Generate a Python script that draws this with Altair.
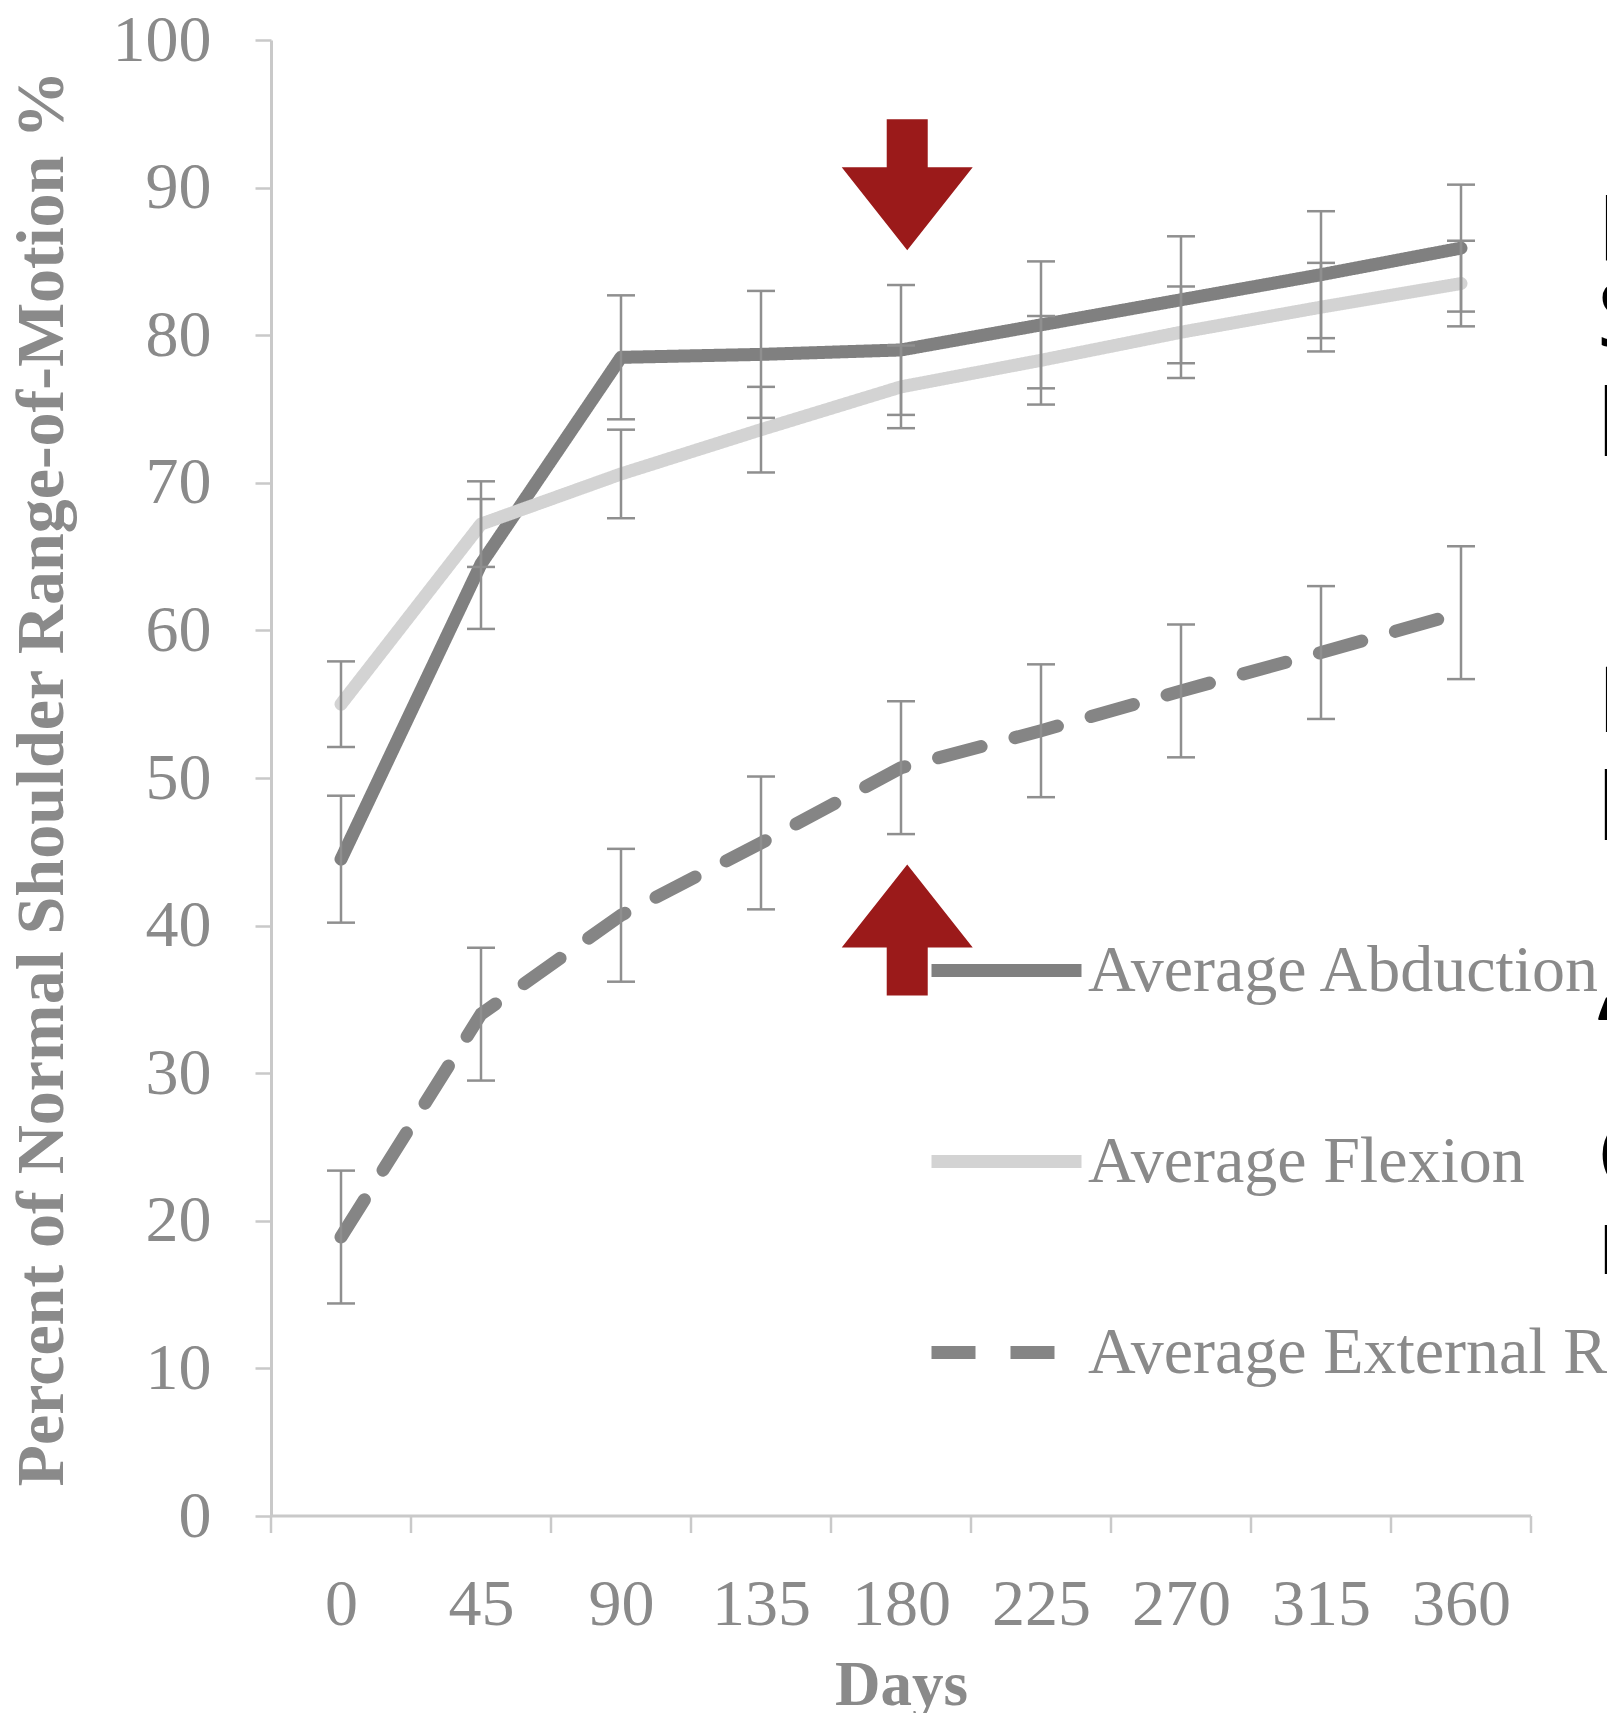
import altair as alt
import pandas as pd

# ---------------- data ----------------
days = [0, 45, 90, 135, 180, 225, 270, 315, 360]
series_names = ["Average Abduction", "Average Flexion", "Average External Rotation"]

abduction = [44.5, 64.5, 78.5, 78.7, 79.0, 80.7, 82.4, 84.1, 85.9]
abduction_err = [4.3, 4.4, 4.2, 4.3, 4.4, 4.3, 4.3, 4.3, 4.3]
flexion = [55.0, 67.2, 70.6, 73.6, 76.5, 78.3, 80.2, 81.9, 83.5]
flexion_err = [2.9, 2.9, 3.0, 2.9, 2.8, 3.0, 3.1, 3.0, 2.9]
external = [18.9, 34.0, 40.7, 45.6, 50.7, 53.2, 55.9, 58.5, 61.2]
external_err = [4.5, 4.5, 4.5, 4.5, 4.5, 4.5, 4.5, 4.5, 4.5]

y_ticks = [0, 10, 20, 30, 40, 50, 60, 70, 80, 90, 100]
x_bounds = [-22.5, 22.5, 67.5, 112.5, 157.5, 202.5, 247.5, 292.5, 337.5, 382.5]

# annotation arrows (day, value, direction)
arrow_days = [182, 182]
arrow_values = [90.2, 39.7]
arrow_dirs = ["down", "up"]

# cropped slide text at the right edge
side_letters = ["F", "S", "p", "H", "p", "\u201c", "C", "n"]
side_values = [85.0, 79.2, 73.3, 53.1, 47.3, 30.7, 22.3, 16.4]

# ---------------- build tables ----------------
rows = []
for name, vals, errs in zip(series_names, [abduction, flexion, external],
                            [abduction_err, flexion_err, external_err]):
    for d, v, e in zip(days, vals, errs):
        rows.append({"series": name, "day": d, "value": v, "lo": v - e, "hi": v + e})
df = pd.DataFrame(rows)

bounds_df = pd.DataFrame({"day": x_bounds})
axis_df = pd.DataFrame({"day": [x_bounds[0]], "day2": [x_bounds[-1]], "value": [0]})
arrows_df = pd.DataFrame({"day": arrow_days, "value": arrow_values, "dir": arrow_dirs})
letters_df = pd.DataFrame({"t": side_letters, "value": side_values})

GREY_TXT = "#8a8a8a"
AXIS_GREY = "#c9c9c9"
ERR_GREY = "#8f8f8f"
SERIF = "Liberation Serif"

W, H = 1336, 1476
px_per_day = 1260 / 405
x_scale = alt.Scale(domain=[-22.5, -22.5 + W / px_per_day], nice=False, zero=False)
y_scale = alt.Scale(domain=[0, 100], nice=False, zero=False)

legend = alt.Legend(
    title=None, orient="none", legendX=654, legendY=849,
    symbolType="stroke", symbolSize=22500, symbolStrokeWidth=13,
    labelFont=SERIF, labelFontSize=66, labelColor=GREY_TXT,
    rowPadding=76, labelOffset=0, padding=0, labelLimit=0,
)
color_enc = alt.Color("series:N", scale=alt.Scale(domain=series_names,
                      range=["#808080", "#d3d3d3", "#858585"]), legend=legend)
dash_enc = alt.StrokeDash("series:N", scale=alt.Scale(domain=series_names,
                          range=[[1, 0], [1, 0], [44, 35]]), legend=legend)

x_axis = alt.Axis(values=days, ticks=False, tickSize=0, domain=False, grid=False,
                  labelFont=SERIF, labelFontSize=66, labelColor=GREY_TXT,
                  labelPadding=56, labelFlush=False,
                  title="Days", titleFont=SERIF, titleFontSize=63, titleFontWeight="bold",
                  titleColor=GREY_TXT, titleX=630, titleY=138, titleBaseline="top",
                  titleAlign="center")
y_axis = alt.Axis(values=y_ticks, tickSize=16, tickColor=AXIS_GREY, tickWidth=2.5,
                  domainColor=AXIS_GREY, domainWidth=3, grid=False,
                  labelFont=SERIF, labelFontSize=66, labelColor=GREY_TXT, labelPadding=44,
                  title="Percent of Normal Shoulder Range-of-Motion %",
                  titleFont=SERIF, titleFontSize=68, titleFontWeight="bold",
                  titleColor=GREY_TXT, titlePadding=36)


def X(field="day"):
    return alt.X(f"{field}:Q", scale=x_scale, axis=x_axis, title="Days")


def Y(field="value"):
    return alt.Y(f"{field}:Q", scale=y_scale, axis=y_axis,
                 title="Percent of Normal Shoulder Range-of-Motion %")


base = alt.Chart(df)


def series_line(name):
    return base.transform_filter(alt.datum.series == name).mark_line(
        strokeWidth=13, strokeCap="round", strokeJoin="round"
    ).encode(x=X(), y=Y(), color=color_enc, strokeDash=dash_enc)


lines = [series_line(series_names[2]), series_line(series_names[0]),
         series_line(series_names[1])]

err_rule = base.mark_rule(color=ERR_GREY, strokeWidth=2.5).encode(
    x=X(), y=Y("lo"), y2="hi:Q")
cap_lo = base.mark_tick(orient="horizontal", size=28, thickness=2.5, color=ERR_GREY,
                        opacity=1).encode(x=X(), y=Y("lo"))
cap_hi = base.mark_tick(orient="horizontal", size=28, thickness=2.5, color=ERR_GREY,
                        opacity=1).encode(x=X(), y=Y("hi"))

x_line = alt.Chart(axis_df).mark_rule(color=AXIS_GREY, strokeWidth=3).encode(
    x=X(), x2="day2:Q", y=Y())
x_ticks = alt.Chart(bounds_df).mark_rule(color=AXIS_GREY, strokeWidth=2.5).encode(
    x=X(), y=alt.value(H), y2=alt.value(H + 17))

down_path = "M -0.313 -1 L 0.313 -1 L 0.313 -0.267 L 1 -0.267 L 0 1 L -1 -0.267 L -0.313 -0.267 Z"
up_path = "M -0.313 1 L 0.313 1 L 0.313 0.267 L 1 0.267 L 0 -1 L -1 0.267 L -0.313 0.267 Z"
arrows = alt.Chart(arrows_df).mark_point(filled=True, opacity=1, strokeWidth=0,
                                         color="#9b1a1a").encode(
    x=X(), y=Y(),
    shape=alt.Shape("dir:N", scale=alt.Scale(domain=["down", "up"], range=[down_path, up_path]),
                    legend=None),
    size=alt.value(17161))

letters = alt.Chart(letters_df).mark_text(align="left", baseline="alphabetic",
                                          font="Noto Sans", fontSize=92, color="#000000").encode(
    x=alt.value(1326), y=Y(), text="t:N")

chart = alt.layer(
    x_line, x_ticks, *lines, err_rule, cap_lo, cap_hi, arrows, letters
).properties(
    width=W, height=H,
    padding={"left": 263, "top": 32, "right": 0, "bottom": 197},
    autosize=alt.AutoSizeParams(type="none"),
    background="#ffffff",
).configure_view(stroke=None)

chart.save("out.html", embed_options={"renderer": "svg", "actions": False})
